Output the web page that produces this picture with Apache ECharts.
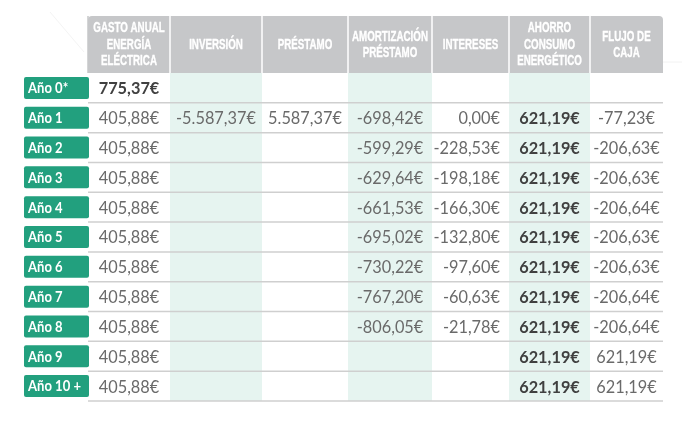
<!DOCTYPE html>
<html>
<head>
<meta charset="utf-8">
<script src="https://cdn.jsdelivr.net/npm/echarts@6/dist/echarts.min.js"></script>
<style>html,body{margin:0;padding:0;background:#fff}#c{width:692px;height:424px}</style>
</head>
<body>
<div id="c"></div>
<script>
// ---- data ----
const headers = ['GASTO ANUAL\nENERGÍA\nELÉCTRICA', 'INVERSIÓN', 'PRÉSTAMO', 'AMORTIZACIÓN\nPRÉSTAMO', 'INTERESES', 'AHORRO\nCONSUMO\nENERGÉTICO', 'FLUJO DE\nCAJA'];
const rows = ['Año 0*', 'Año 1', 'Año 2', 'Año 3', 'Año 4', 'Año 5', 'Año 6', 'Año 7', 'Año 8', 'Año 9', 'Año 10 +'];
const gasto = [775.37, 405.88, 405.88, 405.88, 405.88, 405.88, 405.88, 405.88, 405.88, 405.88, 405.88];
const inversion = [null, -5587.37, null, null, null, null, null, null, null, null, null];
const prestamo = [null, 5587.37, null, null, null, null, null, null, null, null, null];
const amortizacion = [null, -698.42, -599.29, -629.64, -661.53, -695.02, -730.22, -767.20, -806.05, null, null];
const intereses = [null, 0.00, -228.53, -198.18, -166.30, -132.80, -97.60, -60.63, -21.78, null, null];
const ahorro = [null, 621.19, 621.19, 621.19, 621.19, 621.19, 621.19, 621.19, 621.19, 621.19, 621.19];
const flujo = [null, -77.23, -206.63, -206.63, -206.64, -206.63, -206.63, -206.64, -206.64, 621.19, 621.19];

// ---- layout (not data) ----
const colW = [82, 92, 86, 84, 77, 81, 73];
const colStart = [0];
colW.forEach((w, i) => colStart.push(colStart[i] + w));
const shadedCols = [1, 3, 5];
const GREEN = '#22a07e';
const SHADE = '#e6f4f0';
const HEAD = '#c6c7c9';
const valueFont = 'Lato, "Noto Sans", sans-serif';
const headFont = '"Liberation Sans", "DejaVu Sans", sans-serif';

const columns = [gasto, inversion, prestamo, amortizacion, intereses, ahorro, flujo];

function fmt(v) {
  const neg = v < 0;
  let [i, d] = Math.abs(v).toFixed(2).split('.');
  i = i.replace(/\B(?=(\d{3})+(?!\d))/g, '.');
  return (neg ? '-' : '') + i + ',' + d + '€';
}

const cellData = [];
columns.forEach((arr, c) => {
  arr.forEach((v, r) => {
    if (v !== null) {
      const bold = (c === 5) || (c === 0 && r === 0);
      cellData.push([c, r, v, bold ? 1 : 0]);
    }
  });
});

const chart = echarts.init(document.getElementById('c'), null, {renderer: 'canvas'});

function colX(api, c) {
  return [api.coord([colStart[c], 0])[0], api.coord([colStart[c + 1], 0])[0]];
}

const option = {
  animation: false,
  backgroundColor: '#ffffff',
  grid: {left: 88, top: 73, width: 575, height: 328},
  xAxis: {type: 'value', min: 0, max: colStart[colStart.length - 1], show: false},
  yAxis: {type: 'category', data: rows, inverse: true, show: false},
  graphic: [
    {type: 'line', shape: {x1: 50, y1: 12, x2: 84, y2: 52}, style: {stroke: '#f4f4f4', lineWidth: 1}, silent: true},
    {type: 'line', shape: {x1: 663, y1: 62, x2: 682, y2: 62}, style: {stroke: '#f2f2f2', lineWidth: 1}, silent: true}
  ],
  series: [
    {
      type: 'custom', name: 'shade', z: 1, silent: true,
      data: shadedCols.map(c => [c]),
      renderItem: function (params, api) {
        const c = api.value(0);
        const [x0, x1] = colX(api, c);
        const cs = params.coordSys;
        return {type: 'rect', shape: {x: x0, y: cs.y - 1, width: x1 - x0, height: cs.height + 1}, style: {fill: SHADE}};
      }
    },
    {
      type: 'custom', name: 'rows', z: 2, silent: true,
      data: rows.map((r, i) => [i]),
      renderItem: function (params, api) {
        const r = api.value(0);
        const cs = params.coordSys;
        const c = api.coord([0, r]);
        const h = api.size([0, 1])[1];
        const yb = c[1] + h / 2;
        return {
          type: 'group',
          children: [
            {type: 'line', shape: {x1: cs.x, y1: yb, x2: cs.x + cs.width, y2: yb}, style: {stroke: '#cfcfcf', lineWidth: 1.5}},
            {type: 'rect', shape: {x: cs.x - 64, y: c[1] - 11, width: 65, height: 22, r: 2}, style: {fill: GREEN}},
            {type: 'text', x: cs.x - 60, y: c[1] + 0.5, scaleX: 0.87, style: {text: rows[r], fill: '#ffffff', font: 'bold 15px ' + valueFont, textAlign: 'left', textVerticalAlign: 'middle'}}
          ]
        };
      }
    },
    {
      type: 'custom', name: 'header', z: 3, silent: true,
      data: headers.map((h, i) => [i]),
      renderItem: function (params, api) {
        const c = api.value(0);
        const [x0, x1] = colX(api, c);
        const cs = params.coordSys;
        const top = cs.y - 57;
        const rr = c === 0 ? [4, 0, 0, 0] : (c === headers.length - 1 ? [0, 4, 0, 0] : 0);
        return {
          type: 'group',
          children: [
            {type: 'rect', shape: {x: x0, y: top, width: x1 - x0, height: 57, r: rr}, style: {fill: HEAD}},
            {type: 'line', shape: {x1: x0, y1: top, x2: x0, y2: cs.y}, style: {stroke: c === 0 ? HEAD : '#ffffff', lineWidth: 1.5}},
            {type: 'text', x: (x0 + x1) / 2, y: top + 28.5, scaleX: 0.63, style: {text: headers[c], fill: '#ffffff', stroke: '#ffffff', lineWidth: 0.4, font: 'bold 15.5px ' + headFont, textAlign: 'center', textVerticalAlign: 'middle', lineHeight: 16.5}}
          ]
        };
      }
    },
    {
      type: 'custom', name: 'cells', z: 4, silent: true,
      data: cellData,
      renderItem: function (params, api) {
        const c = api.value(0), r = api.value(1), v = api.value(2), b = api.value(3);
        const [x0, x1] = colX(api, c);
        const y = api.coord([0, r])[1];
        const right = c === 4;
        return {
          type: 'text', x: right ? x1 - 9 : (x0 + x1) / 2, y: y + 1, scaleX: 0.96,
          style: {
            text: fmt(v),
            fill: b ? '#404040' : '#6a6a6a',
            font: (b ? 'bold ' : '') + '17px ' + valueFont,
            textAlign: right ? 'right' : 'center',
            textVerticalAlign: 'middle'
          }
        };
      }
    }
  ]
};
chart.setOption(option);
</script>
</body>
</html>
